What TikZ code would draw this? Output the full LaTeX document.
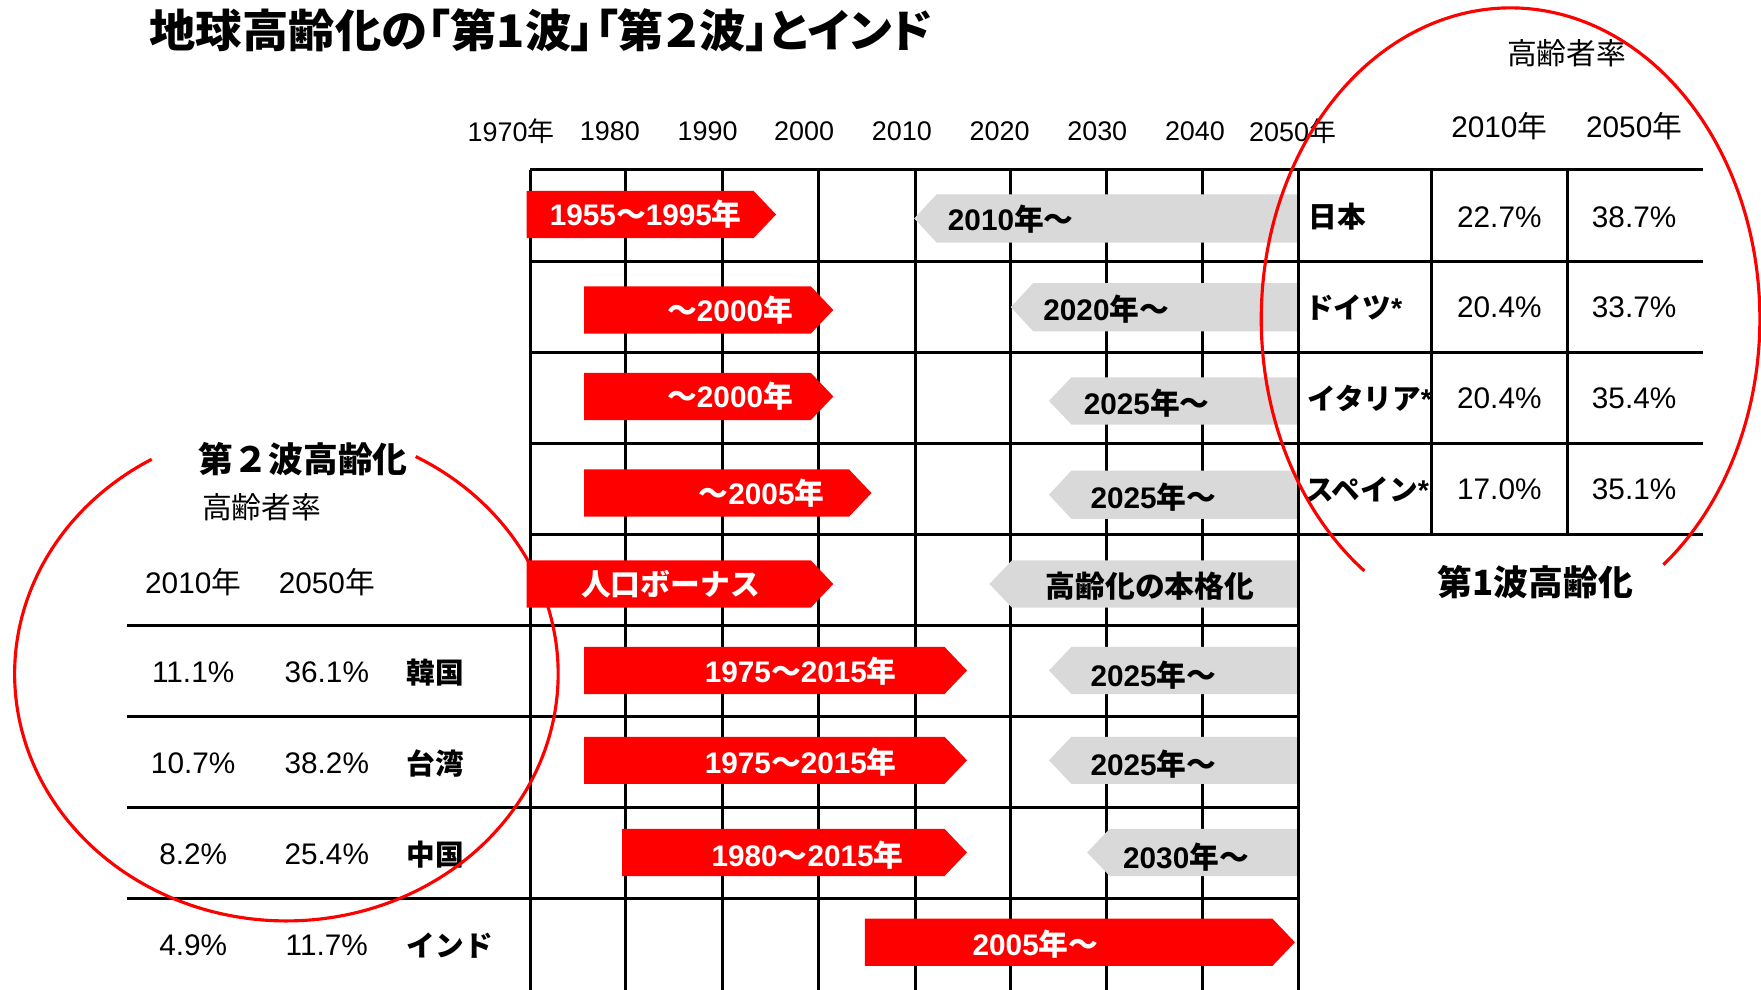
\documentclass[tikz,border=0pt]{standalone}
\usepackage{fontspec}
\usepackage{graphicx}
\setmainfont{Liberation Sans}
\newfontfamily\jp{Noto Sans CJK JP}
\newcommand\J[1]{{\jp #1}}
\definecolor{rd}{RGB}{255,0,0}
\definecolor{gr}{RGB}{217,217,217}
\newcommand\rbar[4]{\fill[rd] (#1,#3) -- (#2,#3) -- ({#2+20},{(#3+#4)/2}) -- (#2,#4) -- (#1,#4) -- cycle;}
\newcommand\gbar[3]{\fill[gr] (#1,{(#2+#3)/2}) -- ({#1+20},#2) -- (1155,#2) -- (1155,#3) -- ({#1+20},#3) -- cycle;}
\begin{document}
\begin{tikzpicture}[x=1pt,y=-1pt,
  gridline/.style={line width=2.7pt, black},
  rlab/.style={text=white, font=\fontsize{26.5}{30}\selectfont\bfseries, inner sep=0},
  glab/.style={text=black, font=\fontsize{26.5}{30}\selectfont\bfseries, inner sep=0},
  axis/.style={font=\fontsize{24}{28}\selectfont, inner sep=0},
  val/.style={font=\fontsize{26.5}{30}\selectfont, inner sep=0},
  cty/.style={font=\fontsize{25.5}{30}\selectfont\bfseries\jp, inner sep=0, anchor=west},
  hdr/.style={font=\fontsize{26.5}{30}\selectfont, inner sep=0},
  wave/.style={font=\fontsize{31}{36}\selectfont\bfseries\jp, inner sep=0},
  ring/.style={draw=rd, line width=2.8pt}
]
\useasboundingbox (0,0) rectangle (1568,881);
\fill[white] (0,0) rectangle (1568,881);

% grid
\foreach \x in {472,557,643,729,815,900,985,1071}
  \draw[gridline] (\x,151) -- (\x,890);
\foreach \y in {151,233,314,395,476}
  \draw[gridline] (472,\y) -- (1516,\y);
\foreach \y in {557,638,719,800}
  \draw[gridline] (113,\y) -- (1156,\y);
\draw[gridline] (1275,151) -- (1275,476);
\draw[gridline] (1396,151) -- (1396,476);

% bars
\rbar{469}{671}{170}{212}
\gbar{814}{173}{216}
\rbar{520}{722}{255}{297}
\gbar{900}{252}{295}
\rbar{520}{722}{332}{374}
\gbar{934}{336}{378}
\rbar{520}{756}{418}{460}
\gbar{934}{419}{462}
\rbar{469}{722}{499}{541}
\gbar{881}{499}{541}
\rbar{520}{841}{576}{618}
\gbar{934}{576}{618}
\rbar{520}{841}{656}{698}
\gbar{934}{656}{698}
\rbar{554}{841}{738}{780}
\gbar{968}{738}{780}
\rbar{770}{1133}{818}{860}

\draw[gridline] (1156,151) -- (1156,890);

% bar labels
\node[rlab] (b1) at (575,191) {1955\J{～}1995\J{年}};
\node[glab] (g1) at (900,195) {2010\J{年～}};
\node[rlab] (b2) at (650,276) {\J{～}2000\J{年}};
\node[glab] (g2) at (985,275) {2020\J{年～}};
\node[rlab] (b3) at (650,353) {\J{～}2000\J{年}};
\node[glab] (g3) at (1021,359) {2025\J{年～}};
\node[rlab] (b4) at (678,439) {\J{～}2005\J{年}};
\node[glab] (g4) at (1027,443) {2025\J{年～}};
\node[rlab] (b5) at (597,520) {\J{人口ボーナス}};
\node[glab] (g5) at (1024,522) {\J{高齢化の本格化}};
\node[rlab] (b6) at (713,598) {1975\J{～}2015\J{年}};
\node[glab] (g6) at (1027,601) {2025\J{年～}};
\node[rlab] (b7) at (713,679) {1975\J{～}2015\J{年}};
\node[glab] (g7) at (1027,680) {2025\J{年～}};
\node[rlab] (b8) at (719,761) {1980\J{～}2015\J{年}};
\node[glab] (g8) at (1056,763) {2030\J{年～}};
\node[rlab] (b9) at (922,841) {2005\J{年～}};

% title
\node[anchor=west, inner sep=0] (title) at (133,27) {\resizebox{697pt}{\height}{\fontsize{40}{44}\selectfont\bfseries\jp\addfontfeature{RawFeature=+palt}地球高齢化の「第1波」「第２波」とインド}};

% axis
\node[axis] (a1970) at (455,117) {1970\J{年}};
\node[axis] (a1980) at (543,117) {1980};
\node[axis] (a1990) at (630,117) {1990};
\node[axis] (a2000) at (716,117) {2000};
\node[axis] (a2010) at (803,117) {2010};
\node[axis] (a2020) at (890,117) {2020};
\node[axis] (a2030) at (977,117) {2030};
\node[axis] (a2040) at (1064,117) {2040};
\node[axis] (a2050) at (1151,117) {2050\J{年}};

% right table
\node[hdr] (rk) at (1395,47) {\J{高齢者率}};
\node[hdr] (rh1) at (1335,112) {2010\J{年}};
\node[hdr] (rh2) at (1455,112) {2050\J{年}};
\node[cty] (c1) at (1165,193) {日本};
\node[cty] (c2) at (1162,274) {ドイツ{\rmfamily *}};
\node[cty] (c3) at (1164,355) {イタリア{\rmfamily *}};
\node[cty] (c4) at (1162,436) {スペイン{\rmfamily *}};
\node[val] (v11) at (1335,193) {22.7\%};
\node[val] (v12) at (1455,193) {38.7\%};
\node[val] (v21) at (1335,274) {20.4\%};
\node[val] (v22) at (1455,274) {33.7\%};
\node[val] (v31) at (1335,355) {20.4\%};
\node[val] (v32) at (1455,355) {35.4\%};
\node[val] (v41) at (1335,436) {17.0\%};
\node[val] (v42) at (1455,436) {35.1\%};
\node[wave] (w1) at (1367,518) {第1波高齢化};

% left table
\node[wave] (w2) at (270,409) {第２波高齢化};
\node[hdr] (lk) at (233,452) {\J{高齢者率}};
\node[hdr] (lh1) at (172,518) {2010\J{年}};
\node[hdr] (lh2) at (291,518) {2050\J{年}};
\node[val] (l11) at (172,599) {11.1\%};
\node[val] (l12) at (291,599) {36.1\%};
\node[cty] (k1) at (362,599) {韓国};
\node[val] (l21) at (172,680) {10.7\%};
\node[val] (l22) at (291,680) {38.2\%};
\node[cty] (k2) at (362,680) {台湾};
\node[val] (l31) at (172,761) {8.2\%};
\node[val] (l32) at (291,761) {25.4\%};
\node[cty] (k3) at (362,761) {中国};
\node[val] (l41) at (172,842) {4.9\%};
\node[val] (l42) at (291,842) {11.7\%};
\node[cty] (k4) at (362,842) {インド};

% rings
\draw[ring] plot[domain=125.9:412.2, samples=150, smooth] ({1345+222*cos(\x)},{284+277*sin(\x)});
\draw[ring] plot[domain=-61.6:240.3, samples=150, smooth] ({255+242*cos(\x)},{600+220*sin(\x)});
\end{tikzpicture}
\end{document}
